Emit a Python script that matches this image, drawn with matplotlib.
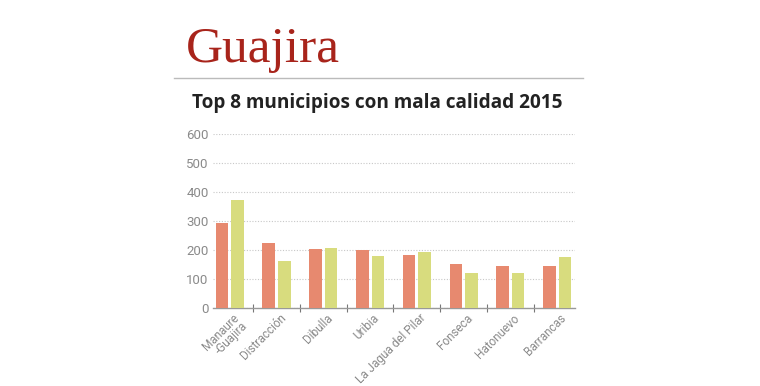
import matplotlib.pyplot as plt
import numpy as np

municipios = ["Manaure\n-Guajira", "Distracción", "Dibulla", "Uribia",
              "La Jagua del Pilar", "Fonseca", "Hatonuevo", "Barrancas"]
serie_roja = [294, 222, 202, 199, 183, 150, 144, 144]
serie_verde = [372, 161, 206, 178, 192, 119, 119, 174]
y_ticks = [0, 100, 200, 300, 400, 500, 600]

ROJO = "#E7896F"
VERDE = "#D8DC7E"
GRIS = "#8a8a8a"
ESTRECHA = "Roboto"


def main():
    fig = plt.figure(figsize=(7.6, 3.86), dpi=100)

    # titulo y linea
    fig.text(0.244, 0.840, "Guajira", family="Liberation Serif", fontsize=37,
             color="#A8241B", ha="left", va="baseline")
    fig.add_artist(plt.Line2D([0.229, 0.767], [0.798, 0.798],
                              transform=fig.transFigure, color="#bbbbbb", lw=1))
    fig.text(0.252, 0.733, "Top 8 municipios con mala calidad 2015",
             family="Open Sans", fontweight="bold", fontsize=13.7,
             color="#222222", ha="left", va="center")

    ax = fig.add_axes([0.280, 0.203, 0.477, 0.450])
    x = np.arange(len(municipios))
    w = 0.27
    ax.bar(x - 0.166, serie_roja, w, color=ROJO, zorder=3)
    ax.bar(x + 0.166, serie_verde, w, color=VERDE, zorder=3)

    ax.set_xlim(-0.364, 7.39)
    ax.set_ylim(0, 600)
    ax.set_yticks(y_ticks)
    ax.set_yticklabels([str(v) for v in y_ticks], color=GRIS, fontsize=9.5,
                       family=ESTRECHA)
    ax.tick_params(axis="y", length=0, pad=3)
    ax.yaxis.grid(True, linestyle=(0, (1, 1.5)), color="#c8c8c8", lw=0.8)
    ax.set_axisbelow(True)

    ax.set_xticks(x[:-1] + 0.5)
    ax.set_xticklabels([])
    ax.tick_params(axis="x", direction="inout", length=6, color="#777777", width=0.8)
    for i, name in enumerate(municipios):
        ax.text(i + 0.06, -14, name, rotation=45, ha="right", va="top",
                rotation_mode="anchor", fontsize=8.5, color=GRIS,
                family=ESTRECHA, linespacing=0.85)

    for side in ["top", "right", "left"]:
        ax.spines[side].set_visible(False)
    ax.spines["bottom"].set_color("#999999")
    ax.spines["bottom"].set_linewidth(1)

    fig.savefig("out.png", dpi=100)


if __name__ == "__main__":
    main()
